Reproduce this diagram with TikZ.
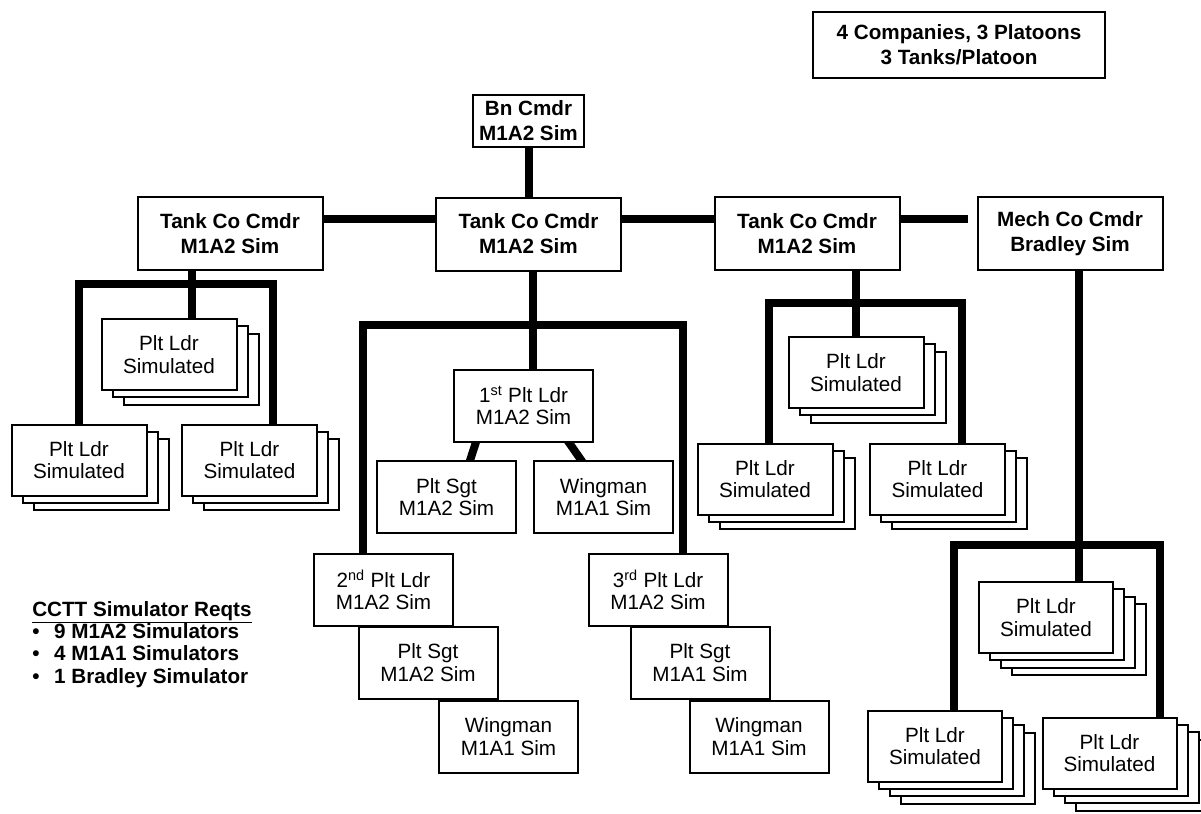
\documentclass[tikz,border=0pt]{standalone}
\usepackage{fontspec}
\setmainfont{Liberation Sans}
\usetikzlibrary{shadows, calc, backgrounds}

\tikzset{
 box/.style={draw, line width=1.5pt, fill=white, align=center, inner sep=0pt,
  font=\fontsize{15.5}{17}\selectfont},
 cmdr/.style={box, font=\fontsize{15.5}{18.75}\selectfont\bfseries,
  minimum width=138.75pt, minimum height=54.75pt},
 crew/.style={box, minimum width=104.25pt, minimum height=54pt},
 sheet/.style={general shadow={shadow xshift=#1*8.25pt, shadow yshift=-#1*5.6pt,
  draw, fill=white, line width=1.5pt}},
 plt3/.style={box, minimum width=101.25pt, minimum height=53.25pt, sheet=2, sheet=1},
 plt4/.style={box, minimum width=100.5pt, minimum height=53.25pt, sheet=3, sheet=2, sheet=1},
 conn/.style={line width=6pt, line join=miter}
}

\begin{document}
\begin{tikzpicture}[x=0.75pt, y=-0.75pt]
\useasboundingbox (0,0) rectangle (1201,813);

\node[cmdr, minimum width=219pt, minimum height=49.5pt] (orgbox) at (959,45) {4 Companies, 3 Platoons\\3 Tanks/Platoon};
\node[cmdr, minimum width=83.25pt, minimum height=39pt] (bn) at (528.5,121) {Bn Cmdr\\M1A2 Sim};

\node[cmdr] (cL) at (230,233.5) {Tank Co Cmdr\\M1A2 Sim};
\node[cmdr] (cC) at (528.5,234) {Tank Co Cmdr\\M1A2 Sim};
\node[cmdr] (cR) at (807,233.5) {Tank Co Cmdr\\M1A2 Sim};
\node[cmdr] (cM) at (1070,233.5) {Mech Co Cmdr\\Bradley Sim};

\node[plt3] (lP1) at (169,354.5) {Plt Ldr\\Simulated};
\node[plt3] (lP2) at (79,460) {Plt Ldr\\Simulated};
\node[plt3] (lP3) at (249.5,460) {Plt Ldr\\Simulated};

\node[crew] (p1) at (523.5,405.5) {1\textsuperscript{st} Plt Ldr\\M1A2 Sim};
\node[crew] (s1) at (446.5,497) {Plt Sgt\\M1A2 Sim};
\node[crew] (w1) at (603.5,497) {Wingman\\M1A1 Sim};
\node[crew] (w2) at (508.5,736.5) {Wingman\\M1A1 Sim};
\node[crew] (s2) at (428,662.5) {Plt Sgt\\M1A2 Sim};
\node[crew] (p2) at (383.5,590) {2\textsuperscript{nd} Plt Ldr\\M1A2 Sim};
\node[crew] (w3) at (759,736.5) {Wingman\\M1A1 Sim};
\node[crew] (s3) at (700,662.5) {Plt Sgt\\M1A1 Sim};
\node[crew] (p3) at (658,590) {3\textsuperscript{rd} Plt Ldr\\M1A2 Sim};

\node[plt3] (rP1) at (856,372.5) {Plt Ldr\\Simulated};
\node[plt3] (rP2) at (765,479) {Plt Ldr\\Simulated};
\node[plt3] (rP3) at (937.5,479) {Plt Ldr\\Simulated};

\node[plt4] (mP1) at (1046,617.5) {Plt Ldr\\Simulated};
\node[plt4] (mP2) at (935,746) {Plt Ldr\\Simulated};
\node[plt4] (mP3) at (1109.5,753) {Plt Ldr\\Simulated};

\node[anchor=north west, align=left, inner sep=0pt, font=\fontsize{15.5}{16.75}\selectfont\bfseries] (reqts) at (32,601)
 {\underline{CCTT Simulator Reqts}\\
  \textbullet\hspace{11pt}9 M1A2 Simulators\\
  \textbullet\hspace{11pt}4 M1A1 Simulators\\
  \textbullet\hspace{11pt}1 Bradley Simulator};

\coordinate (hbar) at (0,219);
\coordinate (lTrunk) at (192,284);
\coordinate (lBarR) at (273,284);
\coordinate (cTrunk) at (533,0);
\coordinate (cBarL) at (363,325);
\coordinate (cBarR) at (683,325);
\coordinate (rBarL) at (769,303);
\coordinate (rBarR) at (962,303);
\coordinate (mTrunk) at (1079,0);
\coordinate (mBarL) at (954,545);
\coordinate (mBarR) at (1160,545);

\begin{scope}[on background layer]
\draw[conn] (bn) -- (cC);
\draw[conn] (cL.east |- hbar) -- (cC.west |- hbar);
\draw[conn] (cC.east |- hbar) -- (cR.west |- hbar);
\draw[conn] (cR.east |- hbar) -- ($(cM.west |- hbar)+(-9,0)$);

\draw[conn] (lTrunk |- cL.south) -- (lTrunk |- lP1.north);
\draw[conn] (lP2.north) |- (lBarR) -- (lBarR |- lP3.north);

\draw[conn] (cTrunk |- cC.south) -- (cTrunk |- p1.north);
\draw[conn] (cBarL |- p2.north) -- (cBarL) -- (cBarR) -- (cBarR |- p3.north);
\draw[conn] ($(p1.south)+(-47,-2)$) -- ($(s1.north)+(23,2)$);
\draw[conn] ($(p1.south)+(44,-2)$) -- ($(w1.north)+(-21,2)$);

\draw[conn] (rP1.north |- cR.south) -- (rP1.north);
\draw[conn] (rBarL |- rP2.north) -- (rBarL) -- (rBarR) -- (rBarR |- rP3.north);

\draw[conn] (mTrunk |- cM.south) -- (mTrunk |- mP1.north);
\draw[conn] (mBarL |- mP2.north) -- (mBarL) -- (mBarR) -- (mBarR |- mP3.north);
\end{scope}
\end{tikzpicture}
\end{document}
